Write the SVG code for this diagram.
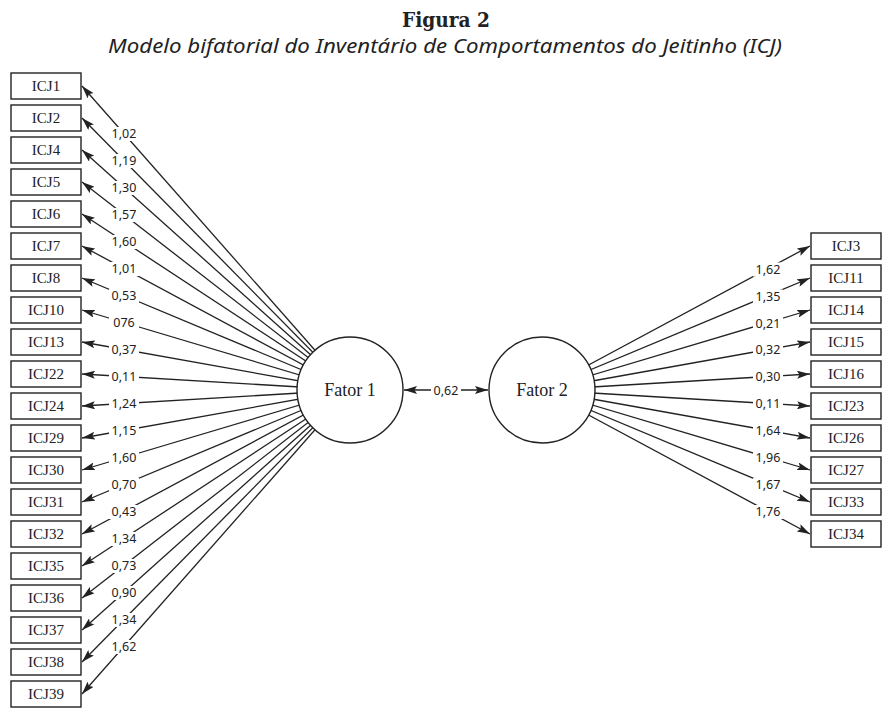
<svg xmlns="http://www.w3.org/2000/svg" width="885" height="715" viewBox="0 0 885 715">
<style>
.box{fill:#fff;stroke:#222;stroke-width:1.4}
.bt{font-family:"Liberation Serif","DejaVu Serif",serif;font-size:15px;fill:#222;text-anchor:middle}
.ft{font-family:"Liberation Serif","DejaVu Serif",serif;font-size:18px;fill:#222;text-anchor:middle}
.lbl{font-family:"Noto Sans","DejaVu Sans",sans-serif;font-size:12.5px;fill:#222;text-anchor:middle}
.bg{fill:#fff;stroke:none}
.cn line{stroke:#222;stroke-width:1.3;marker-end:url(#ah)}
.circ{fill:#fff;stroke:#222;stroke-width:1.4}
</style>
<defs>
<marker id="ah" viewBox="0 0 13 8" markerWidth="13" markerHeight="8" refX="13" refY="4" orient="auto-start-reverse" markerUnits="userSpaceOnUse">
<path d="M0,0 L13,4 L0,8 L2.5,4 z" fill="#222"/>
</marker>
<rect id="lb" class="bg" x="-15" y="-11" width="30" height="14"/>
</defs>
<text x="446" y="27" text-anchor="middle" font-family="'DejaVu Serif',serif" font-weight="bold" font-size="20" fill="#222" textLength="88" lengthAdjust="spacingAndGlyphs">Figura 2</text>
<text x="445" y="53" text-anchor="middle" font-family="'Noto Sans',sans-serif" font-style="italic" font-size="19" fill="#222" textLength="674" lengthAdjust="spacingAndGlyphs">Modelo bifatorial do Inventário de Comportamentos do Jeitinho (ICJ)</text>
<g id="connectors" class="cn">
<line x1="350" y1="390" x2="82" y2="86"/>
<line x1="350" y1="390" x2="82" y2="118"/>
<line x1="350" y1="390" x2="82" y2="150"/>
<line x1="350" y1="390" x2="82" y2="182"/>
<line x1="350" y1="390" x2="82" y2="214"/>
<line x1="350" y1="390" x2="82" y2="246"/>
<line x1="350" y1="390" x2="82" y2="278"/>
<line x1="350" y1="390" x2="82" y2="310"/>
<line x1="350" y1="390" x2="82" y2="342"/>
<line x1="350" y1="390" x2="82" y2="374"/>
<line x1="350" y1="390" x2="82" y2="406"/>
<line x1="350" y1="390" x2="82" y2="438"/>
<line x1="350" y1="390" x2="82" y2="470"/>
<line x1="350" y1="390" x2="82" y2="502"/>
<line x1="350" y1="390" x2="82" y2="534"/>
<line x1="350" y1="390" x2="82" y2="566"/>
<line x1="350" y1="390" x2="82" y2="598"/>
<line x1="350" y1="390" x2="82" y2="630"/>
<line x1="350" y1="390" x2="82" y2="662"/>
<line x1="350" y1="390" x2="82" y2="694"/>
<line x1="542" y1="390" x2="810" y2="246"/>
<line x1="542" y1="390" x2="810" y2="278"/>
<line x1="542" y1="390" x2="810" y2="310"/>
<line x1="542" y1="390" x2="810" y2="342"/>
<line x1="542" y1="390" x2="810" y2="374"/>
<line x1="542" y1="390" x2="810" y2="406"/>
<line x1="542" y1="390" x2="810" y2="438"/>
<line x1="542" y1="390" x2="810" y2="470"/>
<line x1="542" y1="390" x2="810" y2="502"/>
<line x1="542" y1="390" x2="810" y2="534"/>
<line x1="404" y1="390" x2="488" y2="390" style="marker-start:url(#ah)"/>
<use href="#lb" x="124" y="138"/><text class="lbl" x="124" y="138">1,02</text>
<use href="#lb" x="124" y="165"/><text class="lbl" x="124" y="165">1,19</text>
<use href="#lb" x="124" y="192"/><text class="lbl" x="124" y="192">1,30</text>
<use href="#lb" x="124" y="219"/><text class="lbl" x="124" y="219">1,57</text>
<use href="#lb" x="124" y="246"/><text class="lbl" x="124" y="246">1,60</text>
<use href="#lb" x="124" y="273"/><text class="lbl" x="124" y="273">1,01</text>
<use href="#lb" x="124" y="300"/><text class="lbl" x="124" y="300">0,53</text>
<use href="#lb" x="124" y="327"/><text class="lbl" x="124" y="327">076</text>
<use href="#lb" x="124" y="354"/><text class="lbl" x="124" y="354">0,37</text>
<use href="#lb" x="124" y="381"/><text class="lbl" x="124" y="381">0,11</text>
<use href="#lb" x="124" y="408"/><text class="lbl" x="124" y="408">1,24</text>
<use href="#lb" x="124" y="435"/><text class="lbl" x="124" y="435">1,15</text>
<use href="#lb" x="124" y="462"/><text class="lbl" x="124" y="462">1,60</text>
<use href="#lb" x="124" y="489"/><text class="lbl" x="124" y="489">0,70</text>
<use href="#lb" x="124" y="516"/><text class="lbl" x="124" y="516">0,43</text>
<use href="#lb" x="124" y="543"/><text class="lbl" x="124" y="543">1,34</text>
<use href="#lb" x="124" y="570"/><text class="lbl" x="124" y="570">0,73</text>
<use href="#lb" x="124" y="597"/><text class="lbl" x="124" y="597">0,90</text>
<use href="#lb" x="124" y="624"/><text class="lbl" x="124" y="624">1,34</text>
<use href="#lb" x="124" y="651"/><text class="lbl" x="124" y="651">1,62</text>
<use href="#lb" x="768" y="273.5"/><text class="lbl" x="768" y="273.5">1,62</text>
<use href="#lb" x="768" y="300.5"/><text class="lbl" x="768" y="300.5">1,35</text>
<use href="#lb" x="768" y="327.5"/><text class="lbl" x="768" y="327.5">0,21</text>
<use href="#lb" x="768" y="354"/><text class="lbl" x="768" y="354">0,32</text>
<use href="#lb" x="768" y="381"/><text class="lbl" x="768" y="381">0,30</text>
<use href="#lb" x="768" y="408"/><text class="lbl" x="768" y="408">0,11</text>
<use href="#lb" x="768" y="435"/><text class="lbl" x="768" y="435">1,64</text>
<use href="#lb" x="768" y="462"/><text class="lbl" x="768" y="462">1,96</text>
<use href="#lb" x="768" y="489"/><text class="lbl" x="768" y="489">1,67</text>
<use href="#lb" x="768" y="516"/><text class="lbl" x="768" y="516">1,76</text>
<use href="#lb" x="446" y="394.5"/><text class="lbl" x="446" y="394.5">0,62</text>
</g>
<g id="fator1"><circle class="circ" cx="350" cy="390" r="53"/><text class="ft" x="350" y="396">Fator 1</text></g>
<g id="fator2"><circle class="circ" cx="542" cy="390" r="53"/><text class="ft" x="542" y="396">Fator 2</text></g>
<g id="ICJ1"><rect class="box" x="11" y="73" width="70" height="26"/><text class="bt" x="46" y="91">ICJ1</text></g>
<g id="ICJ2"><rect class="box" x="11" y="105" width="70" height="26"/><text class="bt" x="46" y="123">ICJ2</text></g>
<g id="ICJ4"><rect class="box" x="11" y="137" width="70" height="26"/><text class="bt" x="46" y="155">ICJ4</text></g>
<g id="ICJ5"><rect class="box" x="11" y="169" width="70" height="26"/><text class="bt" x="46" y="187">ICJ5</text></g>
<g id="ICJ6"><rect class="box" x="11" y="201" width="70" height="26"/><text class="bt" x="46" y="219">ICJ6</text></g>
<g id="ICJ7"><rect class="box" x="11" y="233" width="70" height="26"/><text class="bt" x="46" y="251">ICJ7</text></g>
<g id="ICJ8"><rect class="box" x="11" y="265" width="70" height="26"/><text class="bt" x="46" y="283">ICJ8</text></g>
<g id="ICJ10"><rect class="box" x="11" y="297" width="70" height="26"/><text class="bt" x="46" y="315">ICJ10</text></g>
<g id="ICJ13"><rect class="box" x="11" y="329" width="70" height="26"/><text class="bt" x="46" y="347">ICJ13</text></g>
<g id="ICJ22"><rect class="box" x="11" y="361" width="70" height="26"/><text class="bt" x="46" y="379">ICJ22</text></g>
<g id="ICJ24"><rect class="box" x="11" y="393" width="70" height="26"/><text class="bt" x="46" y="411">ICJ24</text></g>
<g id="ICJ29"><rect class="box" x="11" y="425" width="70" height="26"/><text class="bt" x="46" y="443">ICJ29</text></g>
<g id="ICJ30"><rect class="box" x="11" y="457" width="70" height="26"/><text class="bt" x="46" y="475">ICJ30</text></g>
<g id="ICJ31"><rect class="box" x="11" y="489" width="70" height="26"/><text class="bt" x="46" y="507">ICJ31</text></g>
<g id="ICJ32"><rect class="box" x="11" y="521" width="70" height="26"/><text class="bt" x="46" y="539">ICJ32</text></g>
<g id="ICJ35"><rect class="box" x="11" y="553" width="70" height="26"/><text class="bt" x="46" y="571">ICJ35</text></g>
<g id="ICJ36"><rect class="box" x="11" y="585" width="70" height="26"/><text class="bt" x="46" y="603">ICJ36</text></g>
<g id="ICJ37"><rect class="box" x="11" y="617" width="70" height="26"/><text class="bt" x="46" y="635">ICJ37</text></g>
<g id="ICJ38"><rect class="box" x="11" y="649" width="70" height="26"/><text class="bt" x="46" y="667">ICJ38</text></g>
<g id="ICJ39"><rect class="box" x="11" y="681" width="70" height="26"/><text class="bt" x="46" y="699">ICJ39</text></g>
<g id="ICJ3"><rect class="box" x="811" y="233" width="70" height="26"/><text class="bt" x="846" y="251">ICJ3</text></g>
<g id="ICJ11"><rect class="box" x="811" y="265" width="70" height="26"/><text class="bt" x="846" y="283">ICJ11</text></g>
<g id="ICJ14"><rect class="box" x="811" y="297" width="70" height="26"/><text class="bt" x="846" y="315">ICJ14</text></g>
<g id="ICJ15"><rect class="box" x="811" y="329" width="70" height="26"/><text class="bt" x="846" y="347">ICJ15</text></g>
<g id="ICJ16"><rect class="box" x="811" y="361" width="70" height="26"/><text class="bt" x="846" y="379">ICJ16</text></g>
<g id="ICJ23"><rect class="box" x="811" y="393" width="70" height="26"/><text class="bt" x="846" y="411">ICJ23</text></g>
<g id="ICJ26"><rect class="box" x="811" y="425" width="70" height="26"/><text class="bt" x="846" y="443">ICJ26</text></g>
<g id="ICJ27"><rect class="box" x="811" y="457" width="70" height="26"/><text class="bt" x="846" y="475">ICJ27</text></g>
<g id="ICJ33"><rect class="box" x="811" y="489" width="70" height="26"/><text class="bt" x="846" y="507">ICJ33</text></g>
<g id="ICJ34"><rect class="box" x="811" y="521" width="70" height="26"/><text class="bt" x="846" y="539">ICJ34</text></g>
</svg>
